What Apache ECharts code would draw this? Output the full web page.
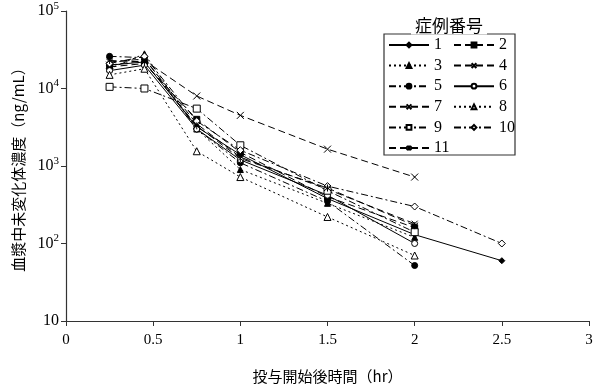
<!DOCTYPE html>
<html><head><meta charset="utf-8">
<script src="https://cdn.jsdelivr.net/npm/echarts@6/dist/echarts.min.js"></script>
<style>html,body{margin:0;padding:0;background:#fff}#c{width:600px;height:389px}</style>
</head><body><div id="c"></div>
<script>
const times = [0.25, 0.45, 0.75, 1, 1.5, 2, 2.5];
const s1 = [20000, 22000, 3200, 1400, 380, 130, 60];
const s2 = [19000, 21000, 4000, 1500, 400, 160];
const s3 = [18000, 28000, 3000, 900, 330, 120];
const s4 = [22000, 24000, 3500, 1300, 500, 180];
const s5 = [26000, 25000, 3000, 1100, 350, 52];
const s6 = [17000, 20000, 3000, 1200, 420, 100];
const s7 = [20000, 23000, 8000, 4500, 1650, 720];
const s8 = [15000, 18000, 1550, 720, 220, 70];
const s9 = [10500, 10000, 5500, 1850, 480, 140];
const s10 = [21000, 26000, 3800, 1600, 550, 300, 100];
const s11 = [23000, 22000, 3300, 1250, 520, 170];
const names = ['1','2','3','4','5','6','7','8','9','10','11'];
const xTicks = ['0','0.5','1','1.5','2','2.5','3'];
const yTitle = '血漿中未変化体濃度（ng/mL）';
const xTitle = '投与開始後時間（hr）';
const legendTitle = '症例番号';

const allVals = [s1,s2,s3,s4,s5,s6,s7,s8,s9,s10,s11];
const DASH = [7,4], DOT = [2,3], DASHDOT = [7,3,2,3], SOLID = 'solid';
const X = 'path://M0,0L10,10M10,0L0,10';
const AST = 'path://M0,0L10,10M10,0L0,10M5,-1L5,11';
const styles = [
  {line: SOLID, sym: 'diamond', fill: '#000', size: 6},
  {line: DASH, sym: 'rect', fill: '#000', size: 6},
  {line: DOT, sym: 'triangle', fill: '#000', size: 6},
  {line: DASH, sym: X, fill: 'none', size: 6},
  {line: DASHDOT, sym: 'circle', fill: '#000', size: 6},
  {line: SOLID, sym: 'circle', fill: '#fff', size: 6},
  {line: DASH, sym: X, fill: 'none', size: 7},
  {line: DOT, sym: 'triangle', fill: '#fff', size: 7},
  {line: DASHDOT, sym: 'rect', fill: '#fff', size: 7},
  {line: DASHDOT, sym: 'diamond', fill: '#fff', size: 7},
  {line: DASH, sym: AST, fill: 'none', size: 7}
];
const series = allVals.map((vals, i) => ({
  name: names[i], type: 'line',
  data: vals.map((v, j) => [times[j], v]),
  symbol: styles[i].sym, symbolSize: styles[i].size,
  lineStyle: {color: '#000', width: 1, type: styles[i].line},
  itemStyle: {color: styles[i].fill === 'none' ? 'rgba(0,0,0,0)' : styles[i].fill, borderColor: '#000', borderWidth: 1},
  emphasis: {disabled: true}, animation: false
}));
const legendCommon = {orient: 'vertical', itemWidth: 40, itemHeight: 6, itemGap: 4.6,
  textStyle: {fontFamily: 'Liberation Serif', fontSize: 16, color: '#000'}, selectedMode: false};
const chart = echarts.init(document.getElementById('c'));
chart.setOption({
  animation: false,
  backgroundColor: '#fff',
  grid: {left: 66, right: 11, top: 11, bottom: 66},
  xAxis: {type: 'value', min: 0, max: 3, interval: 0.5,
    axisLine: {lineStyle: {color: '#333', width: 1.2}},
    axisTick: {show: true, length: 5, lineStyle: {color: '#333'}},
    splitLine: {show: false},
    axisLabel: {margin: 12, color: '#000', fontFamily: 'Liberation Serif', fontSize: 15,
      formatter: v => xTicks[Math.round(v * 2)]},
    name: xTitle, nameLocation: 'middle', nameGap: 48,
    nameTextStyle: {fontFamily: 'Noto Sans CJK JP', fontSize: 15, color: '#000'}},
  yAxis: {type: 'log', logBase: 10, min: 10, max: 100000,
    axisLine: {show: true, lineStyle: {color: '#333', width: 1.2}},
    axisTick: {show: true, length: 5, lineStyle: {color: '#333'}},
    splitLine: {show: false}, minorTick: {show: false},
    axisLabel: {margin: 7, color: '#000', fontFamily: 'Liberation Serif', fontSize: 16,
      formatter: v => { const e = Math.round(Math.log10(v)); return e === 1 ? '10' : '10{s|' + e + '}'; },
      rich: {s: {fontSize: 11, fontFamily: 'Liberation Serif', color: '#000', padding: [0, 0, 10, 0]}}},
    name: yTitle, nameLocation: 'middle', nameGap: 40,
    nameTextStyle: {fontFamily: 'Noto Sans CJK JP', fontSize: 15, color: '#000'}},
  legend: [
    Object.assign({left: 383, top: 32, data: ['1','3','5','7','9','11']}, legendCommon),
    Object.assign({left: 448, top: 32, data: ['2','4','6','8','10']}, legendCommon)
  ],
  graphic: [
    {type: 'rect', shape: {x: 384, y: 34, width: 131, height: 121}, style: {fill: 'none', stroke: '#333', lineWidth: 1.2}, z: 0},
    {type: 'text', x: 449, y: 26, style: {text: legendTitle, font: '17px "Noto Sans CJK JP"', fill: '#000',
      align: 'center', verticalAlign: 'middle', backgroundColor: '#fff', padding: [0, 4]}, z: 10}
  ],
  series: series
});
</script></body></html>
